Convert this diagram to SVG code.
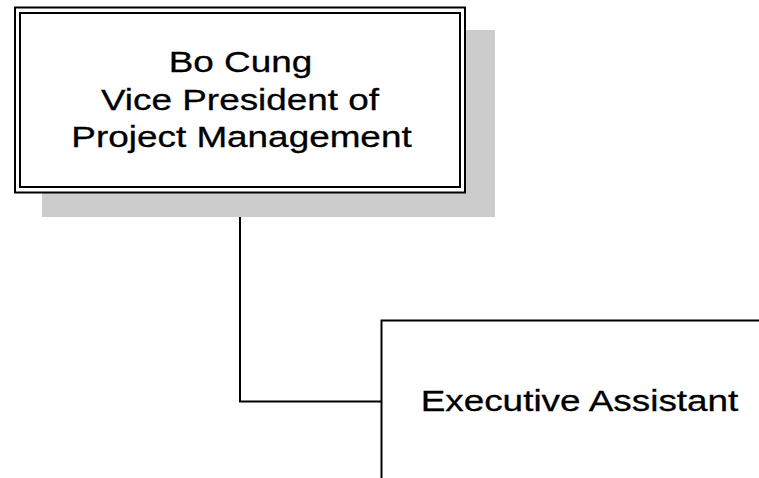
<svg xmlns="http://www.w3.org/2000/svg" width="759" height="478" viewBox="0 0 759 478">
<style>
.box{fill:#ffffff;stroke:#000000;stroke-width:2}
.lbl{font-family:"Liberation Sans",Arial,sans-serif;font-size:30px;fill:#000000;stroke:#000000;stroke-width:0.3;text-anchor:middle}
.conn{fill:none;stroke:#000000;stroke-width:2}
</style>
<rect width="759" height="478" fill="#ffffff"/>
<g id="connectors">
<path class="conn" d="M240,193 V401.5 H381.5"/>
</g>
<g id="node-bo-cung">
<rect x="42" y="30" width="453" height="187" fill="#cccccc"/>
<rect class="box" x="15" y="7.5" width="450" height="185"/>
<rect class="box" x="20" y="13" width="440" height="174"/>
<text class="lbl" transform="translate(240.5,71.5) scale(1.23,1)">Bo Cung</text>
<text class="lbl" transform="translate(240,109.5) scale(1.23,1)">Vice President of</text>
<text class="lbl" transform="translate(241.5,147) scale(1.23,1)">Project Management</text>
</g>
<g id="node-executive-assistant">
<rect class="box" x="381.5" y="320.5" width="420" height="200"/>
<text class="lbl" transform="translate(579.5,411) scale(1.23,1)">Executive Assistant</text>
</g>
</svg>
